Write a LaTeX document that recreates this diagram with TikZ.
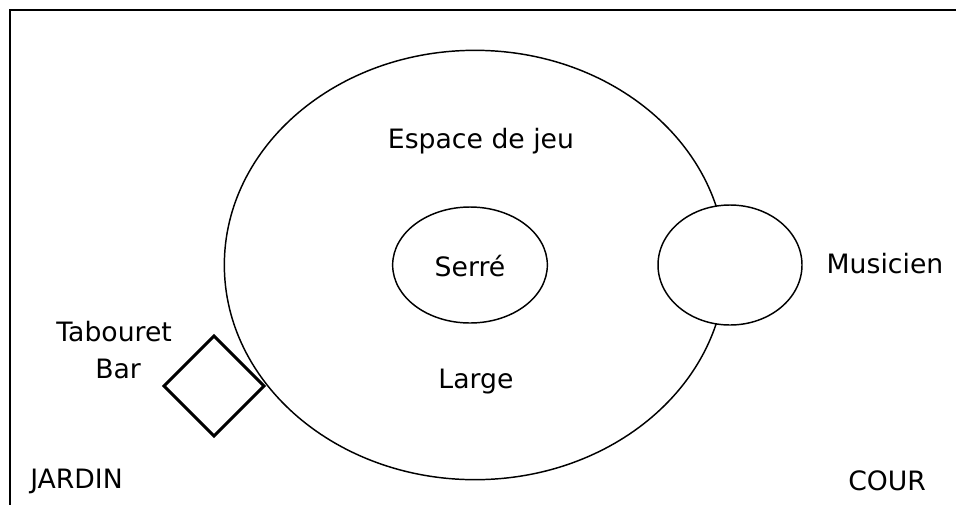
\documentclass[tikz,border=0pt]{standalone}
\usepackage{fontspec}
\setmainfont{DejaVu Sans}
\usetikzlibrary{shapes.geometric}
\tikzset{
  zone/.style={draw=black, ellipse, line width=1.1pt, inner sep=0pt},
  lbl/.style={font=\fontsize{20}{24}\selectfont, inner sep=0pt, anchor=center},
  stool/.style={draw=black, diamond, line width=2.3pt, inner sep=0pt, minimum width=76pt, minimum height=76pt}
}
\begin{document}
\begin{tikzpicture}[x=0.75pt,y=-0.75pt]
\useasboundingbox (0,0) rectangle (956,504);
\clip (0,0) rectangle (956,504);
\fill[white] (0,0) rectangle (956,504);
\coordinate (tl) at (10,10);
\coordinate (tr) at (970,10);
\coordinate (bl) at (10,520);
\draw[line width=1.6pt] (tr) -- (tl) -- (bl);
\node[zone, minimum width=376pt, minimum height=322pt] (espace) at (475,265) {};
\node[zone, fill=white, minimum width=108pt, minimum height=90pt] (musicien) at (730,265) {};
\node[zone, minimum width=116pt, minimum height=87pt] (serre) at (470,265) {};
\node[stool] (tabouret) at (214,386) {};
\node[lbl] (t1) at (481,141) {Espace de jeu};
\node[lbl] (t2) at (470,266) {Serré};
\node[lbl] (t3) at (885,264) {Musicien};
\node[lbl] (t4) at (476,382) {Large};
\node[lbl, anchor=west] (t5) at (56,332) {Tabouret};
\node[lbl, anchor=west] (t6) at (95,369) {Bar};
\node[lbl, anchor=west] (t7) at (30,481) {JARDIN};
\node[lbl, anchor=west] (t8) at (848,481) {COUR};
\end{tikzpicture}
\end{document}
